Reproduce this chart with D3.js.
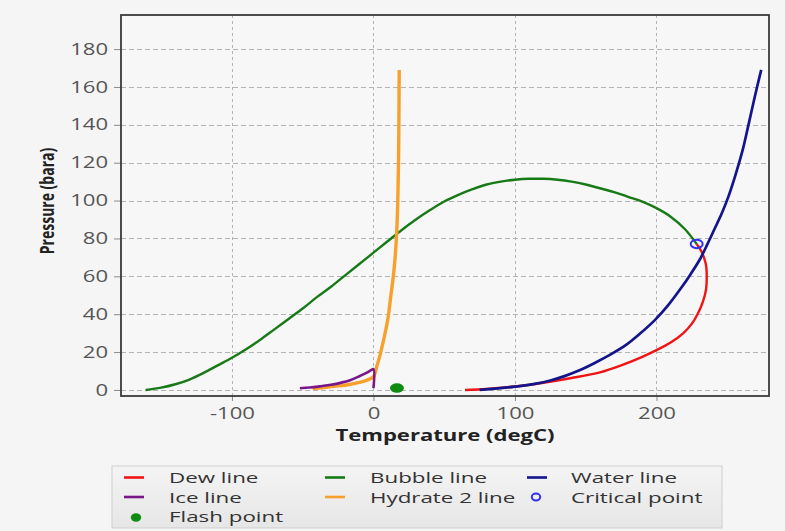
<!DOCTYPE html>
<html>
<head>
<meta charset="utf-8">
<script src="https://cdn.jsdelivr.net/npm/d3@7"></script>
<style>
  html, body { margin: 0; padding: 0; background: #f5f5f5; }
  svg { display: block; font-family: "Open Sans", "Noto Sans", sans-serif; }
</style>
</head>
<body>
<svg id="chart" width="785" height="531"></svg>
<script>
// Phase envelope data: temperature (degC) and pressure (bara)
const dewT = [64.7, 80, 100, 120, 140, 160, 175, 190, 200, 210, 219, 225, 229, 232.5, 235, 235.5, 235, 233.5, 231.5, 228.4];
const dewP = [0, 0.5, 1.8, 3.8, 6.3, 9.3, 13, 17.5, 21, 25, 30, 35, 40, 46, 53, 61, 66, 70, 73.5, 77.1];

const bubbleT = [-161, -150, -140, -130, -120, -110, -100, -90, -80, -70, -60, -50, -40, -30, -20, -10, 0, 10, 20, 30, 40, 50, 60, 70, 80, 90, 100, 110, 120, 130, 140, 150, 160, 170, 180, 190, 200, 210, 220, 228.4];
const bubbleP = [0, 1.2, 3, 5.5, 9, 13, 17, 21.5, 26.5, 32, 37.5, 43, 49, 54.5, 60.5, 66.5, 72.5, 78.5, 84.5, 90, 95, 99.5, 103, 106, 108.5, 110, 111, 111.5, 111.5, 111, 110, 108.5, 106.5, 104.5, 102, 99.5, 96, 91.5, 85, 77.1];

const waterT = [75, 90, 103.5, 115, 125, 135, 146, 157, 167, 178, 188, 199, 208, 216.6, 224, 230.7, 236, 241, 246, 251, 256, 261, 265, 269.5, 274];
const waterP = [0, 1, 2, 3.3, 5, 7.3, 10.5, 14.5, 18.5, 23.5, 29.5, 37, 44.5, 53, 61, 69, 77, 85, 93, 102.5, 114, 127, 140, 155, 169];

const iceT = [-52, -45, -38, -30, -22, -16, -10, -5, -2, 0, 0];
const iceP = [0.9, 1.3, 1.9, 2.7, 4, 5.3, 7.2, 9, 10.3, 11, 1];

const hydrateT = [-43, -35, -28, -19, -10, -4, 0, 2.3, 4.5, 6.7, 8.5, 10.3, 12, 14, 15.3, 16.4, 17.2, 17.7, 18, 18.2];
const hydrateP = [0.8, 1.3, 1.9, 2.6, 4, 5.3, 7, 12.3, 18, 24.8, 31, 38, 48, 59.8, 70, 83, 100, 120, 145, 169];

const criticalPoint = { T: 228.4, P: 77.1 };
const flashPoint = { T: 16.6, P: 1.0 };

const xTicks = [-100, 0, 100, 200];
const yTicks = [0, 20, 40, 60, 80, 100, 120, 140, 160, 180];

// the chart is rendered with text widened horizontally
const SX = 1.38;

const svg = d3.select("#chart");
const plot = { left: 121, right: 769, top: 15, bottom: 396 };

const x = d3.scaleLinear().domain([-178.4, 279.5]).range([plot.left, plot.right]);
const y = d3.scaleLinear().domain([-3.2, 198]).range([plot.bottom, plot.top]);

// plot area background
svg.append("rect")
  .attr("x", plot.left).attr("y", plot.top)
  .attr("width", plot.right - plot.left).attr("height", plot.bottom - plot.top)
  .attr("fill", "#f7f7f7");

// dashed grid
const grid = svg.append("g").attr("stroke", "#b4b4b4").attr("stroke-width", 1);
grid.selectAll("line.h").data(yTicks).join("line")
  .attr("stroke-dasharray", "5,3")
  .attr("x1", plot.left).attr("x2", plot.right)
  .attr("y1", d => Math.round(y(d)) + 0.5).attr("y2", d => Math.round(y(d)) + 0.5);
grid.selectAll("line.v").data(xTicks).join("line")
  .attr("stroke-dasharray", "3,3")
  .attr("y1", plot.top).attr("y2", plot.bottom)
  .attr("x1", d => Math.round(x(d)) + 0.5).attr("x2", d => Math.round(x(d)) + 0.5);

// axes
const fmt = d => String(d);
const xAxis = svg.append("g")
  .attr("transform", `translate(0,${plot.bottom})`)
  .call(d3.axisBottom(x).tickValues(xTicks).tickSize(5).tickPadding(7).tickFormat(fmt));
const yAxis = svg.append("g")
  .attr("transform", `translate(${plot.left},0)`)
  .call(d3.axisLeft(y).tickValues(yTicks).tickSize(7).tickPadding(6).tickFormat(fmt));
[xAxis, yAxis].forEach(a => {
  a.select(".domain").remove();
  a.selectAll(".tick line").attr("stroke", "#8a8a8a");
  a.selectAll(".tick text").attr("fill", "#555").style("font-size", "16px")
   .style("font-family", "'Open Sans', sans-serif");
});
xAxis.selectAll(".tick text").attr("transform", `scale(${SX},1)`);
yAxis.selectAll(".tick text")
  .attr("x", -13 / SX)
  .attr("transform", `scale(${SX},1)`);

// series lines
const line = d3.line().x(d => x(d[0])).y(d => y(d[1])).curve(d3.curveCatmullRom.alpha(0.5));
const zip = (a, b) => a.map((v, i) => [v, b[i]]);

const series = [
  { name: "Dew line", T: dewT, P: dewP, color: "#f01414", width: 2.4 },
  { name: "Bubble line", T: bubbleT, P: bubbleP, color: "#167a16", width: 2.4 },
  { name: "Water line", T: waterT, P: waterP, color: "#14148c", width: 2.7 },
  { name: "Hydrate 2 line", T: hydrateT, P: hydrateP, color: "#f8a02c", width: 3.4 },
  { name: "Ice line", T: iceT, P: iceP, color: "#7a168a", width: 2.6 }
];

svg.append("clipPath").attr("id", "plotclip").append("rect")
  .attr("x", plot.left).attr("y", plot.top)
  .attr("width", plot.right - plot.left).attr("height", plot.bottom - plot.top);

const gLines = svg.append("g").attr("clip-path", "url(#plotclip)");
series.forEach(s => {
  gLines.append("path")
    .attr("d", line(zip(s.T, s.P)))
    .attr("fill", "none")
    .attr("stroke", s.color)
    .attr("stroke-width", s.width)
    .attr("stroke-linejoin", "round")
    .attr("stroke-linecap", "butt");
});

// markers
gLines.append("ellipse")
  .attr("cx", x(flashPoint.T)).attr("cy", y(flashPoint.P)).attr("rx", 7).attr("ry", 4.8)
  .attr("fill", "#118a11");
gLines.append("ellipse")
  .attr("cx", x(criticalPoint.T)).attr("cy", y(criticalPoint.P)).attr("rx", 6).attr("ry", 4.2)
  .attr("fill", "none").attr("stroke", "#3030ee").attr("stroke-width", 2);

// frame
svg.append("rect")
  .attr("x", plot.left).attr("y", plot.top)
  .attr("width", plot.right - plot.left).attr("height", plot.bottom - plot.top)
  .attr("fill", "none").attr("stroke", "#3a3a3a").attr("stroke-width", 1.8);

// axis titles
svg.append("text")
  .attr("transform", `translate(445,441) scale(${SX},1)`)
  .attr("text-anchor", "middle")
  .style("font-size", "16px").style("font-weight", "bold").attr("fill", "#222")
  .text("Temperature (degC)");
svg.append("text")
  .attr("transform", `translate(54,201) scale(${SX},1) rotate(-90)`)
  .attr("text-anchor", "middle")
  .style("font-size", "14px").style("font-weight", "bold")
  .attr("fill", "#222")
  .text("Pressure (bara)");

// legend
const defs = svg.append("defs");
const grad = defs.append("linearGradient").attr("id", "legbg").attr("x1", 0).attr("x2", 0).attr("y1", 0).attr("y2", 1);
grad.append("stop").attr("offset", "0%").attr("stop-color", "#f4f4f4");
grad.append("stop").attr("offset", "100%").attr("stop-color", "#e6e6e6");

const legend = svg.append("g");
legend.append("rect")
  .attr("x", 112).attr("y", 466).attr("width", 610).attr("height", 62)
  .attr("fill", "url(#legbg)").attr("stroke", "#cfcfcf");

const legendItems = [
  { name: "Dew line", color: "#f01414", kind: "line", col: 0, row: 0 },
  { name: "Bubble line", color: "#167a16", kind: "line", col: 1, row: 0 },
  { name: "Water line", color: "#14148c", kind: "line", col: 2, row: 0 },
  { name: "Ice line", color: "#7a168a", kind: "line", col: 0, row: 1 },
  { name: "Hydrate 2 line", color: "#f8a02c", kind: "line", col: 1, row: 1 },
  { name: "Critical point", color: "#3030ee", kind: "ring", col: 2, row: 1 },
  { name: "Flash point", color: "#118a11", kind: "dot", col: 0, row: 2 }
];
const colX = [124, 325, 527];
const textX = [169, 370, 571];
const rowY = [477.5, 497, 516.5];
legendItems.forEach(it => {
  const cy = rowY[it.row];
  if (it.kind === "line") {
    legend.append("line")
      .attr("x1", colX[it.col]).attr("x2", colX[it.col] + 20)
      .attr("y1", cy).attr("y2", cy)
      .attr("stroke", it.color).attr("stroke-width", 2.6);
  } else if (it.kind === "ring") {
    legend.append("ellipse").attr("cx", colX[it.col] + 9).attr("cy", cy).attr("rx", 4.2).attr("ry", 3.4)
      .attr("fill", "none").attr("stroke", it.color).attr("stroke-width", 2);
  } else {
    legend.append("ellipse").attr("cx", colX[it.col] + 12).attr("cy", cy + 1).attr("rx", 5.2).attr("ry", 4.2)
      .attr("fill", it.color);
  }
  legend.append("text")
    .attr("transform", `translate(${textX[it.col]},${cy + 5.5}) scale(1.62,1)`)
    .style("font-size", "13.8px").attr("fill", "#333")
    .text(it.name);
});
</script>
</body>
</html>
